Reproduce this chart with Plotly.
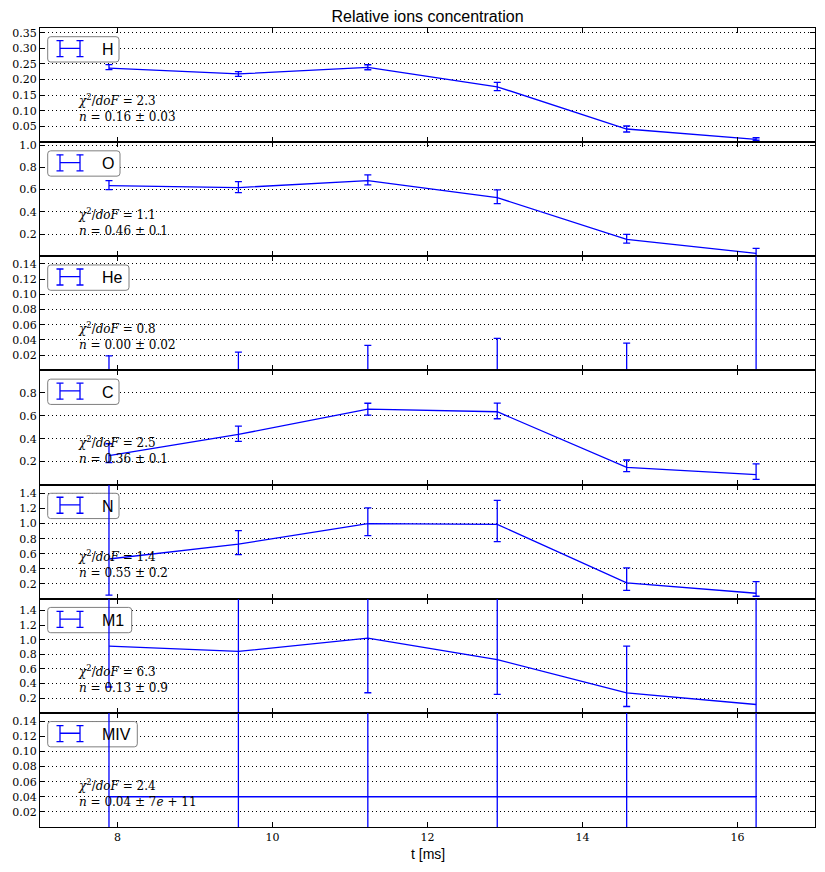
import plotly.graph_objects as go
from plotly.subplots import make_subplots

# ---------------- data ----------------
t_ms = [7.89, 9.56, 11.23, 12.90, 14.57, 16.24]

ions = ["H", "O", "He", "C", "N", "M1", "MIV"]

H_val = [0.237, 0.218, 0.239, 0.177, 0.042, 0.009]
H_up = [0.011, 0.0075, 0.0085, 0.014, 0.0096, 0.005]
H_dn = [0.005, 0.0075, 0.0075, 0.012, 0.0096, 0.003]

O_val = [0.636, 0.618, 0.681, 0.528, 0.152, 0.026]
O_up = [0.045, 0.054, 0.051, 0.069, 0.045, 0.045]
O_dn = [0.036, 0.045, 0.039, 0.054, 0.033, 0.036]

He_val = [0.0, 0.0, 0.0, 0.0, 0.0, 0.0]
He_up = [0.019, 0.024, 0.033, 0.042, 0.036, 0.5]
He_dn = [0.019, 0.024, 0.033, 0.042, 0.036, 0.5]

C_val = [0.252, 0.437, 0.657, 0.635, 0.150, 0.087]
C_up = [0.104, 0.072, 0.052, 0.075, 0.064, 0.093]
C_dn = [0.061, 0.061, 0.052, 0.061, 0.038, 0.041]

N_val = [0.529, 0.727, 1.0, 0.99, 0.21, 0.073]
N_up = [1.5, 0.18, 0.21, 0.32, 0.2, 0.154]
N_dn = [0.482, 0.14, 0.16, 0.23, 0.1, 0.04]

M1_val = [0.913, 0.84, 1.02, 0.728, 0.272, 0.114]
M1_up = [1.5, 1.5, 1.5, 1.5, 0.64, 1.5]
M1_dn = [0.56, 0.84, 0.745, 0.476, 0.185, 0.5]

MIV_val = [0.04, 0.04, 0.04, 0.04, 0.04, 0.04]
MIV_up = [0.2, 0.2, 0.2, 0.2, 0.2, 0.2]
MIV_dn = [0.2, 0.2, 0.2, 0.2, 0.2, 0.2]

chi2_dof = ["2.3", "1.1", "0.8", "2.5", "1.4", "6.3", "2.4"]
n_fit = ["0.16 ± 0.03", "0.46 ± 0.1", "0.00 ± 0.02", "0.36 ± 0.1",
         "0.55 ± 0.2", "0.13 ± 0.9", "0.04 ± 7<i>e</i> + 11"]

y_ranges = [[0, 0.365], [0, 1.027], [0, 0.15], [0, 0.995],
            [0, 1.52], [0, 1.56], [0, 0.151]]

H_ticks = [0.05, 0.10, 0.15, 0.20, 0.25, 0.30, 0.35]
O_ticks = [0.2, 0.4, 0.6, 0.8, 1.0]
He_ticks = [0.02, 0.04, 0.06, 0.08, 0.10, 0.12, 0.14]
C_ticks = [0.2, 0.4, 0.6, 0.8]
N_ticks = [0.2, 0.4, 0.6, 0.8, 1.0, 1.2, 1.4]
M1_ticks = [0.2, 0.4, 0.6, 0.8, 1.0, 1.2, 1.4]
MIV_ticks = [0.02, 0.04, 0.06, 0.08, 0.10, 0.12, 0.14]
tick_formats = [".2f", ".1f", ".2f", ".1f", ".1f", ".1f", ".2f"]

x_ticks = [8, 10, 12, 14, 16]
x_range = [7, 17]

values = [H_val, O_val, He_val, C_val, N_val, M1_val, MIV_val]
ups = [H_up, O_up, He_up, C_up, N_up, M1_up, MIV_up]
dns = [H_dn, O_dn, He_dn, C_dn, N_dn, M1_dn, MIV_dn]
yticks = [H_ticks, O_ticks, He_ticks, C_ticks, N_ticks, M1_ticks, MIV_ticks]

# ---------------- layout constants ----------------
W, Hh = 825, 872
ML, MR, MT, MB = 40, 10, 28, 45
PW = W - ML - MR
PH = Hh - MT - MB
NP = len(ions)
panel_h = PH / NP
BLUE = "#0000ff"
SERIF = "DejaVu Serif"
SANS = "Liberation Sans, Arial, sans-serif"

legend_box_w = [71.3, 72.3, 81.3, 71.3, 71.3, 84.0, 89.6]

fig = make_subplots(rows=NP, cols=1, shared_xaxes=True, vertical_spacing=0)

for i in range(NP):
    r = i + 1
    fig.add_trace(
        go.Scatter(
            x=t_ms, y=values[i], mode="lines", name=ions[i], showlegend=False,
            line=dict(color=BLUE, width=1.3),
            error_y=dict(type="data", symmetric=False, array=ups[i],
                         arrayminus=dns[i], color=BLUE, thickness=1.3, width=3.5),
        ),
        row=r, col=1,
    )
    fig.update_yaxes(
        range=y_ranges[i], tickvals=yticks[i], tickformat=tick_formats[i],
        ticks="inside", ticklen=5, tickcolor="black", mirror="ticks",
        showline=True, linecolor="black", linewidth=1,
        showgrid=True, gridcolor="black", gridwidth=1, griddash="1px,3px",
        zeroline=False, tickfont=dict(family=SERIF, size=11, color="black"),
        row=r, col=1,
    )
    fig.update_xaxes(
        range=x_range, tickvals=x_ticks, ticks="inside", ticklen=5,
        tickcolor="black", mirror="ticks", showline=True, linecolor="black",
        linewidth=1, showgrid=False, zeroline=False,
        showticklabels=(r == NP),
        tickfont=dict(family=SERIF, size=11, color="black"),
        row=r, col=1,
    )

    # --- legend-like box, placed by pixel offsets converted to this panel's axes ---
    xs = "x" if r == 1 else f"x{r}"
    ys = "y" if r == 1 else f"y{r}"
    top = MT + i * panel_h
    bottom = top + panel_h
    ymin, ymax = y_ranges[i]

    def dx(px):
        return x_range[0] + (px - ML) / PW * (x_range[1] - x_range[0])

    def dy(py, bottom=bottom, ymin=ymin, ymax=ymax):
        return ymin + (bottom - py) / panel_h * (ymax - ymin)

    bx, by = 47.7, top + 8.7
    bw, bh, rad = legend_box_w[i], 25.3, 3.0
    x0, x1, y0, y1 = bx, bx + bw, by, by + bh

    def pt(px, py):
        return f"{dx(px):.6f},{dy(py):.6f}"

    path = (f"M{pt(x0 + rad, y0)} L{pt(x1 - rad, y0)} Q{pt(x1, y0)} {pt(x1, y0 + rad)} "
            f"L{pt(x1, y1 - rad)} Q{pt(x1, y1)} {pt(x1 - rad, y1)} "
            f"L{pt(x0 + rad, y1)} Q{pt(x0, y1)} {pt(x0, y1 - rad)} "
            f"L{pt(x0, y0 + rad)} Q{pt(x0, y0)} {pt(x0 + rad, y0)} Z")
    fig.add_shape(type="path", path=path, xref=xs, yref=ys,
                  line=dict(color="#7f7f7f", width=1), fillcolor="white", layer="between")

    sym_l, sym_r = bx + 12.3, bx + 32.3
    ly = by + 11.7
    cap = 3.5
    seg = [
        (sym_l, ly, sym_r, ly),
        (sym_l, by + 4, sym_l, by + 20),
        (sym_r, by + 4, sym_r, by + 20),
        (sym_l - cap, by + 4, sym_l + cap, by + 4),
        (sym_l - cap, by + 20, sym_l + cap, by + 20),
        (sym_r - cap, by + 4, sym_r + cap, by + 4),
        (sym_r - cap, by + 20, sym_r + cap, by + 20),
    ]
    for (ax0, ay0, ax1, ay1) in seg:
        fig.add_shape(type="line", xref=xs, yref=ys,
                      x0=dx(ax0), y0=dy(ay0), x1=dx(ax1), y1=dy(ay1),
                      line=dict(color=BLUE, width=1.3), layer="above")
    fig.add_annotation(text=ions[i], xref=xs, yref=ys,
                       x=dx(bx + 52.3), y=dy(by + 12.9), xanchor="left", yanchor="middle",
                       showarrow=False, font=dict(family=SANS, size=16, color="black"))

    # --- fit annotation ---
    fig.add_annotation(
        text=(f"<i>χ</i><sup>2</sup>/<i>doF</i> = {chi2_dof[i]}<br>"
              f"<i>n</i> = {n_fit[i]}"),
        xref=f"{xs} domain", yref=f"{ys} domain", x=0.046, y=0.30,
        xanchor="left", yanchor="middle", align="left", showarrow=False,
        font=dict(family=SERIF, size=12, color="black"),
    )

fig.add_annotation(text="t [ms]", xref="paper", yref="paper", x=0.5,
                   y=1 - (854 - MT) / PH, xanchor="center", yanchor="middle",
                   showarrow=False, font=dict(family=SANS, size=14, color="black"))

fig.update_layout(
    width=W, height=Hh, autosize=False,
    margin=dict(l=ML, r=MR, t=MT, b=MB),
    paper_bgcolor="white", plot_bgcolor="white",
    title=dict(text="Relative ions concentration", x=0.5, xref="paper",
               xanchor="center", y=1 - 16 / Hh, yref="container", yanchor="middle",
               font=dict(family=SANS, size=16, color="black")),
    showlegend=False,
)

fig.write_html("out.html")
